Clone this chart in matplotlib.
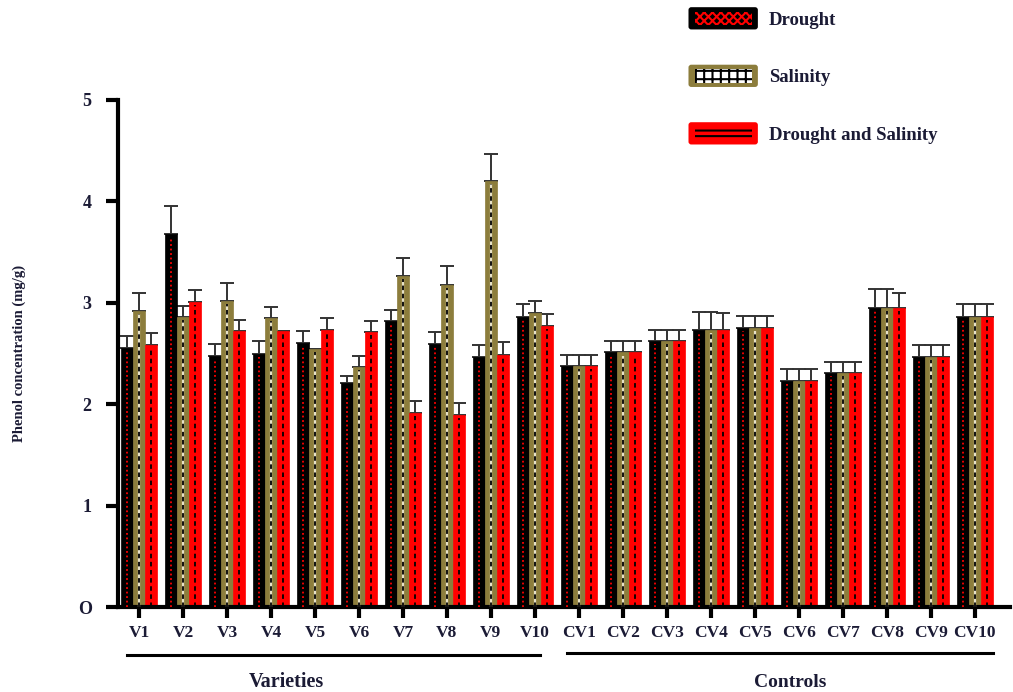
import matplotlib.pyplot as plt
import matplotlib.patches as mpatches
from matplotlib.legend_handler import HandlerBase
import numpy as np

plt.rcParams['font.family'] = ['Liberation Serif', 'DejaVu Serif']
plt.rcParams['font.weight'] = 'bold'
plt.rcParams['hatch.linewidth'] = 1.5

labels = ['V1', 'V2', 'V3', 'V4', 'V5', 'V6', 'V7', 'V8', 'V9', 'V10',
          'CV1', 'CV2', 'CV3', 'CV4', 'CV5', 'CV6', 'CV7', 'CV8', 'CV9', 'CV10']

drought = [2.55, 3.68, 2.48, 2.50, 2.60, 2.21, 2.82, 2.59, 2.47, 2.86,
           2.38, 2.51, 2.62, 2.73, 2.75, 2.23, 2.31, 2.95, 2.47, 2.86]
drought_err = [0.12, 0.27, 0.11, 0.12, 0.12, 0.07, 0.11, 0.12, 0.11, 0.13,
               0.11, 0.11, 0.11, 0.18, 0.12, 0.12, 0.11, 0.19, 0.11, 0.13]

salinity = [2.92, 2.86, 3.02, 2.85, 2.54, 2.37, 3.26, 3.18, 4.20, 2.90,
            2.38, 2.51, 2.62, 2.73, 2.75, 2.23, 2.31, 2.95, 2.47, 2.86]
salinity_err = [0.18, 0.11, 0.18, 0.11, 0.0, 0.11, 0.18, 0.18, 0.27, 0.12,
                0.11, 0.11, 0.11, 0.18, 0.12, 0.12, 0.11, 0.19, 0.11, 0.13]

both = [2.58, 3.01, 2.72, 2.72, 2.73, 2.71, 1.91, 1.89, 2.49, 2.77,
        2.38, 2.51, 2.62, 2.73, 2.75, 2.23, 2.31, 2.95, 2.47, 2.86]
both_err = [0.12, 0.12, 0.11, 0.0, 0.12, 0.11, 0.12, 0.12, 0.12, 0.12,
            0.11, 0.11, 0.11, 0.17, 0.12, 0.12, 0.11, 0.15, 0.11, 0.13]

olive = '#8c7d3c'
txt = '#1b1b35'


class FramedHandler(HandlerBase):
    # outer coloured frame with a hatched strip inside, like the original key
    def __init__(self, frame, inner, hatch_col, hatch):
        super().__init__()
        self.frame, self.inner, self.hatch_col, self.hatch = frame, inner, hatch_col, hatch

    def create_artists(self, legend, orig, xd, yd, width, height, fontsize, trans):
        outer = mpatches.FancyBboxPatch((-xd, -yd), width, height,
                                        boxstyle='round,pad=0,rounding_size=2',
                                        facecolor=self.frame, edgecolor=self.frame,
                                        linewidth=0, transform=trans)
        m = height * 0.2
        inner = mpatches.Rectangle((-xd + m * 1.4, -yd + m), width - 2.8 * m, height - 2 * m,
                                   facecolor=self.inner, edgecolor=self.hatch_col,
                                   hatch=self.hatch, linewidth=0, transform=trans)
        return [outer, inner]


fig = plt.figure(figsize=(10.13, 6.92), dpi=100)
ax = fig.add_axes([0.1165, 0.1228, 0.8805, 0.7327])

x = np.arange(len(labels))
w = 0.275
series = [
    (drought, drought_err, 'black', 'red', (0, (1, 1.5)), -w),
    (salinity, salinity_err, olive, 'black', (0, (2.5, 2)), 0),
    (both, both_err, 'red', 'black', (0, (2.5, 2)), w),
]
bars = []
for vals, err, fc, lc, ls, off in series:
    vals = np.array(vals)
    b = ax.bar(x + off, vals, w, color=fc, edgecolor=fc, linewidth=0.5, zorder=2)
    bars.append(b)
    ax.errorbar(x + off, vals, yerr=[np.zeros_like(vals), err], fmt='none',
                ecolor='#333333', elinewidth=1.4, capsize=5, capthick=1.4, zorder=1)
    if fc == olive:
        ax.vlines(x + off, 0, vals - 0.03, colors='#e8e2c8', linewidth=1.6, zorder=3)
    ax.vlines(x + off, 0, vals - 0.03, colors=lc, linewidth=1.3, linestyles=[ls], zorder=4)

ax.set_xlim(-0.477, 19.8)
ax.set_ylim(0, 5)
ax.set_yticks([0, 1, 2, 3, 4, 5])
ax.set_yticklabels(['O', '1', '2', '3', '4', '5'])
ax.set_xticks(x)
ax.set_xticklabels(labels)

for s in ['top', 'right']:
    ax.spines[s].set_visible(False)
ax.spines['left'].set_linewidth(3)
ax.spines['bottom'].set_linewidth(3)
ax.tick_params(axis='y', length=9, width=3, pad=10, labelsize=13, labelcolor=txt)
ax.tick_params(axis='x', length=8, width=3, pad=5, labelsize=12.5, labelcolor=txt)

ax.set_ylabel('Phenol concentration (mg/g)', fontsize=10.5, fontweight='bold',
              color=txt, labelpad=37)

tr = ax.get_xaxis_transform()
ax.plot([-0.27, 9.11], [-0.095, -0.095], color='black', lw=2.2,
        transform=tr, clip_on=False)
ax.plot([9.73, 19.41], [-0.091, -0.091], color='black', lw=2.2,
        transform=tr, clip_on=False)
ax.text(3.36, -0.148, 'Varieties', transform=tr, ha='center', va='center',
        fontsize=14.5, fontweight='bold', color=txt)
ax.text(14.8, -0.148, 'Controls', transform=tr, ha='center', va='center',
        fontsize=14, fontweight='bold', color=txt)

handler_map = {
    bars[0]: FramedHandler('black', 'black', 'red', 'xxxx'),
    bars[1]: FramedHandler(olive, 'white', 'black', '++'),
    bars[2]: FramedHandler('red', 'red', 'black', '---'),
}
leg = fig.legend(bars, ['Drought', 'Salinity', 'Drought and Salinity'],
                 handler_map=handler_map, loc='upper left', bbox_to_anchor=(0.663, 1.014),
                 frameon=False, prop={'family': 'Liberation Serif', 'weight': 'bold', 'size': 13.5},
                 handlelength=3.7, handleheight=1.45, labelspacing=1.88, handletextpad=0.6)
for t in leg.get_texts():
    t.set_color(txt)

fig.savefig('out.png', dpi=100)
